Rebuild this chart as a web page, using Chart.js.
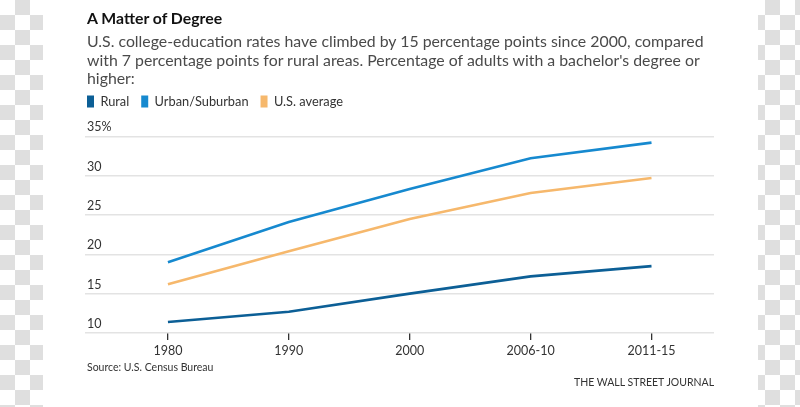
<!DOCTYPE html>
<html>
<head>
<meta charset="utf-8">
<script src="https://cdn.jsdelivr.net/npm/chart.js@4/dist/chart.umd.min.js"></script>
<style>
  html, body { margin: 0; padding: 0; }
  body {
    width: 800px; height: 407px; position: relative; overflow: hidden;
    background-color: #fff;
    background-image: repeating-conic-gradient(#dfdfdf 0 25%, #fff 0 50%);
    background-size: 30px 30px;
    font-family: Lato, "Open Sans", sans-serif;
  }
  #panel { position: absolute; left: 43px; top: 0; width: 715px; height: 407px; background: #fff; }
  #wrap { position: absolute; left: 0; top: 0; width: 800px; height: 407px; }
  .txt { position: absolute; white-space: nowrap; color: #3a3a3a; }
  #title { left: 87px; top: 8px; font-size: 15.8px; font-weight: bold; color: #111; }
  .sub { left: 87px; font-size: 15.85px; color: #4a4a4a; }
  #source { left: 87px; top: 361px; font-size: 10.5px; color: #333; }
  #credit { left: 574px; top: 376px; font-size: 10.5px; color: #333; }
</style>
</head>
<body>
<div id="panel"></div>
<div id="wrap"><canvas id="c" width="800" height="407"></canvas></div>
<div class="txt" id="title">A Matter of Degree</div>
<div class="txt sub" style="top:31px">U.S. college-education rates have climbed by 15 percentage points since 2000, compared</div>
<div class="txt sub" style="top:50px">with 7 percentage points for rural areas. Percentage of adults with a bachelor's degree or</div>
<div class="txt sub" style="top:68px">higher:</div>
<div class="txt" id="source">Source: U.S. Census Bureau</div>
<div class="txt" id="credit">THE WALL STREET JOURNAL</div>
<script>
const categories = ['1980', '1990', '2000', '2006-10', '2011-15'];
const rural = [11.4, 12.7, 15.0, 17.2, 18.5];
const urbanSuburban = [19.0, 24.1, 28.3, 32.2, 34.2];
const usAverage = [16.2, 20.4, 24.5, 27.8, 29.7];
const yTicks = [10, 15, 20, 25, 30, 35];
const yTickLabels = ['10', '15', '20', '25', '30', '35%'];

const toPoints = arr => arr.map((v, i) => ({ x: i, y: v }));

const LEGEND_X = 87;
const legendTweak = {
  id: 'legendTweak',
  beforeInit(chart) {
    const fit = chart.legend.fit;
    chart.legend.fit = function () { fit.call(this); this.height += 18.5; };
  },
  afterLayout(chart) {
    chart.legend.left = LEGEND_X - chart.options.plugins.legend.labels.padding;
  }
};

const font = { family: 'Lato, "Open Sans", sans-serif', size: 12.5 };
const legendFont = { family: 'Lato, "Open Sans", sans-serif', size: 12.8 };

new Chart(document.getElementById('c'), {
  type: 'line',
  data: {
    datasets: [
      { label: 'Rural', data: toPoints(rural), borderColor: '#0c5f96', backgroundColor: '#0c5f96' },
      { label: 'Urban/Suburban', data: toPoints(urbanSuburban), borderColor: '#1689cf', backgroundColor: '#1689cf' },
      { label: 'U.S. average', data: toPoints(usAverage), borderColor: '#f6b86c', backgroundColor: '#f6b86c' }
    ]
  },
  options: {
    responsive: false,
    animation: false,
    clip: false,
    layout: { padding: { left: 81, right: 86, top: 83, bottom: 46 } },
    elements: {
      line: { borderWidth: 2.6, tension: 0, borderCapStyle: 'butt' },
      point: { radius: 0, hoverRadius: 0 }
    },
    scales: {
      x: {
        type: 'linear',
        min: -0.686,
        max: 4.517,
        afterBuildTicks: axis => { axis.ticks = categories.map((_, i) => ({ value: i })); },
        grid: { drawOnChartArea: false, drawTicks: true, tickLength: 7, color: '#333', lineWidth: 1.3 },
        border: { display: false },
        ticks: {
          callback: v => categories[v],
          color: '#333', font, padding: 3, maxRotation: 0, autoSkip: false
        }
      },
      y: {
        min: 10,
        max: 35,
        afterBuildTicks: axis => { axis.ticks = yTicks.map(v => ({ value: v })); },
        grid: { drawTicks: false, color: '#e3e3e3', lineWidth: 1.5 },
        border: { display: false },
        ticks: {
          mirror: true, padding: 2, labelOffset: -9,
          callback: v => yTickLabels[yTicks.indexOf(v)],
          color: '#333', font
        }
      }
    },
    plugins: {
      legend: {
        position: 'top',
        align: 'start',
        labels: {
          boxWidth: 7, boxHeight: 12, padding: 12, color: '#333', font: legendFont,
          generateLabels: chart => Chart.defaults.plugins.legend.labels.generateLabels(chart).map(l => ({ ...l, lineWidth: 0 }))
        }
      },
      tooltip: { enabled: false }
    }
  },
  plugins: [legendTweak]
});
</script>
</body>
</html>
